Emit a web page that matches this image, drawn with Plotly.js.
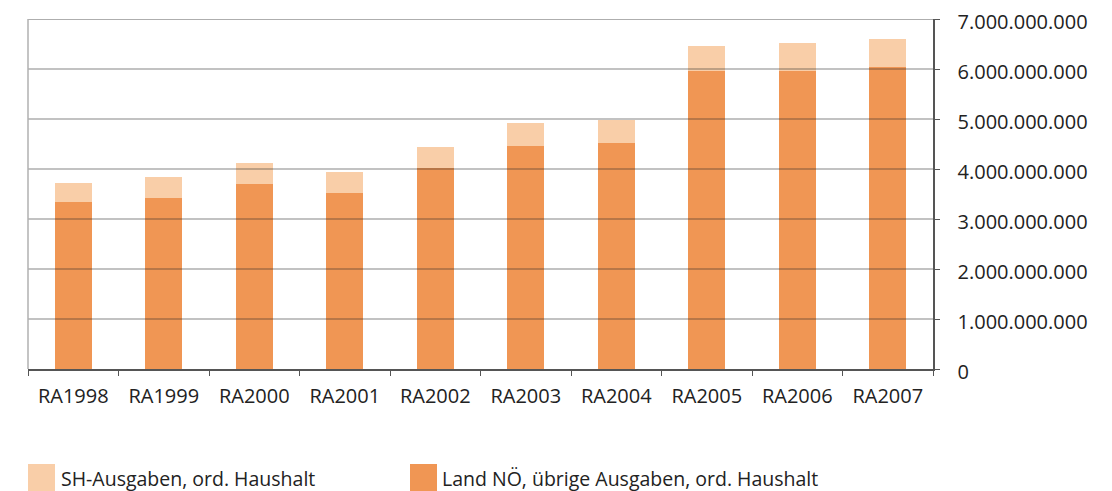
<!DOCTYPE html>
<html>
<head>
<meta charset="utf-8">
<script src="https://cdn.plot.ly/plotly-3.0.1.min.js"></script>
<style>html,body{margin:0;padding:0;background:#fff;}#chart{width:1112px;height:491px;}</style>
</head>
<body>
<div id="chart"></div>
<script>
const categories = ["RA1998","RA1999","RA2000","RA2001","RA2002","RA2003","RA2004","RA2005","RA2006","RA2007"];
const landValues = [3340000000,3420000000,3700000000,3520000000,4020000000,4460000000,4520000000,5960000000,5960000000,6040000000];
const shValues   = [380000000,420000000,420000000,420000000,420000000,460000000,460000000,500000000,560000000,560000000];
const seriesNames = ["SH-Ausgaben, ord. Haushalt","Land NÖ, übrige Ausgaben, ord. Haushalt"];
const tickValues = [0,1000000000,2000000000,3000000000,4000000000,5000000000,6000000000,7000000000];
const tickLabels = ["0","1.000.000.000","2.000.000.000","3.000.000.000","4.000.000.000","5.000.000.000","6.000.000.000","7.000.000.000"];

const colLight = "#F9CEA8";
const colDark = "#F09654";
const fontFam = "Open Sans, sans-serif";
const txtCol = "#222";

const traces = [
  {type:"bar", x:categories, y:landValues, name:seriesNames[1], marker:{color:colDark}, showlegend:false, hoverinfo:"skip"},
  {type:"bar", x:categories, y:shValues, name:seriesNames[0], marker:{color:colLight}, showlegend:false, hoverinfo:"skip"}
];

// plot area: x 28..933 (905px), y 19..369 (350px)
const px = x => (x - 28) / 905;
const py = y => (369 - y) / 350;

const shapes = [];
tickValues.slice(1).forEach(v => {
  shapes.push({type:"line", xref:"paper", yref:"y", x0:0, x1:1, y0:v, y1:v, layer:"above",
    line:{color: v===7000000000 ? "rgba(60,60,60,0.55)" : "rgba(40,40,40,0.38)", width:1.4}});
});
shapes.push({type:"line", xref:"paper", yref:"paper", x0:0, x1:0, y0:0, y1:1, layer:"above", line:{color:"#b0b0b0", width:1.5}});
// legend swatches
shapes.push({type:"rect", xref:"paper", yref:"paper", x0:px(28), x1:px(55), y0:py(491), y1:py(464), line:{width:0}, fillcolor:colLight});
shapes.push({type:"rect", xref:"paper", yref:"paper", x0:px(410), x1:px(437), y0:py(491), y1:py(464), line:{width:0}, fillcolor:colDark});

const annotations = [
  {xref:"paper", yref:"paper", x:px(59), y:py(478), xanchor:"left", yanchor:"middle", showarrow:false, text:seriesNames[0], font:{family:fontFam, size:19.5, color:txtCol}},
  {xref:"paper", yref:"paper", x:px(440), y:py(478), xanchor:"left", yanchor:"middle", showarrow:false, text:seriesNames[1], font:{family:fontFam, size:19.5, color:txtCol}}
];

const layout = {
  width:1112, height:491,
  margin:{l:28, r:179, t:19, b:122},
  paper_bgcolor:"#fff", plot_bgcolor:"#fff",
  barmode:"stack", bargap:0.59,
  showlegend:false,
  font:{family:fontFam, size:20, color:txtCol},
  xaxis:{type:"category", showgrid:false, showline:true, linecolor:"#555", linewidth:1.5,
    ticks:"outside", tickson:"boundaries", ticklen:5, tickcolor:"#555", tickwidth:1,
    tickfont:{family:fontFam, size:20, color:txtCol}, ticklabelstandoff:8, fixedrange:true},
  yaxis:{side:"right", range:[0,7000000000], tickvals:tickValues, ticktext:tickLabels,
    showgrid:false, zeroline:false, showline:true, linecolor:"#555", linewidth:1.5,
    ticks:"outside", ticklen:5, tickcolor:"#555", tickwidth:1,
    tickfont:{family:fontFam, size:20, color:txtCol}, ticklabelstandoff:14, ticklabelshift:3, fixedrange:true},
  shapes:shapes,
  annotations:annotations
};

Plotly.newPlot("chart", traces, layout, {displayModeBar:false, staticPlot:true});
</script>
</body>
</html>
